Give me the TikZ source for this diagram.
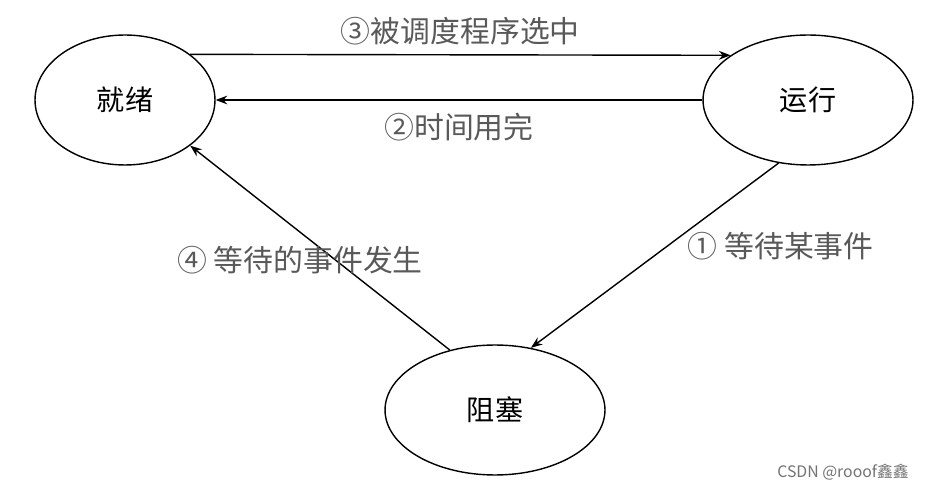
\documentclass[tikz,border=0pt]{standalone}
\usepackage{fontspec}
\newfontfamily\cjk{Noto Sans CJK SC}
\usetikzlibrary{arrows.meta,shapes.geometric}
\begin{document}
\begin{tikzpicture}[x=0.02cm, y=-0.02cm, >=Stealth,
  state/.style={draw, ellipse, thick, minimum width=4.2cm, minimum height=2.6cm, font=\cjk\fontsize{16}{18}\selectfont},
  edgelabel/.style={text=black!65, font=\cjk\fontsize{17}{20}\selectfont}]
\useasboundingbox (0,0) rectangle (933,489);
% States
\node[state, minimum width=3.6cm] (ready) at (125,100) {就绪};
\node[state] (run) at (808,100) {运行};
\node[state, minimum width=4.4cm] (block) at (495,410) {阻塞};
% Transitions
\draw[->, thick] (ready.35) -- (run.150) node[midway, above=2pt, edgelabel] {③被调度程序选中};
\draw[->, thick] (run.180) -- (ready.0) node[midway, below=4pt, edgelabel] {②时间用完};
\draw[->, thick] (run.-115) -- (block.60) node[pos=0.45, right=8pt, edgelabel] {① 等待某事件};
\draw[->, thick] (block.127) -- (ready.-35);
\node[edgelabel] (lbl4) at (300,260) {④ 等待的事件发生};
% Watermark
\node[text=black!55, font=\cjk\fontsize{9}{10}\selectfont] (mark) at (843,472) {CSDN @rooof鑫鑫};
\end{tikzpicture}
\end{document}
